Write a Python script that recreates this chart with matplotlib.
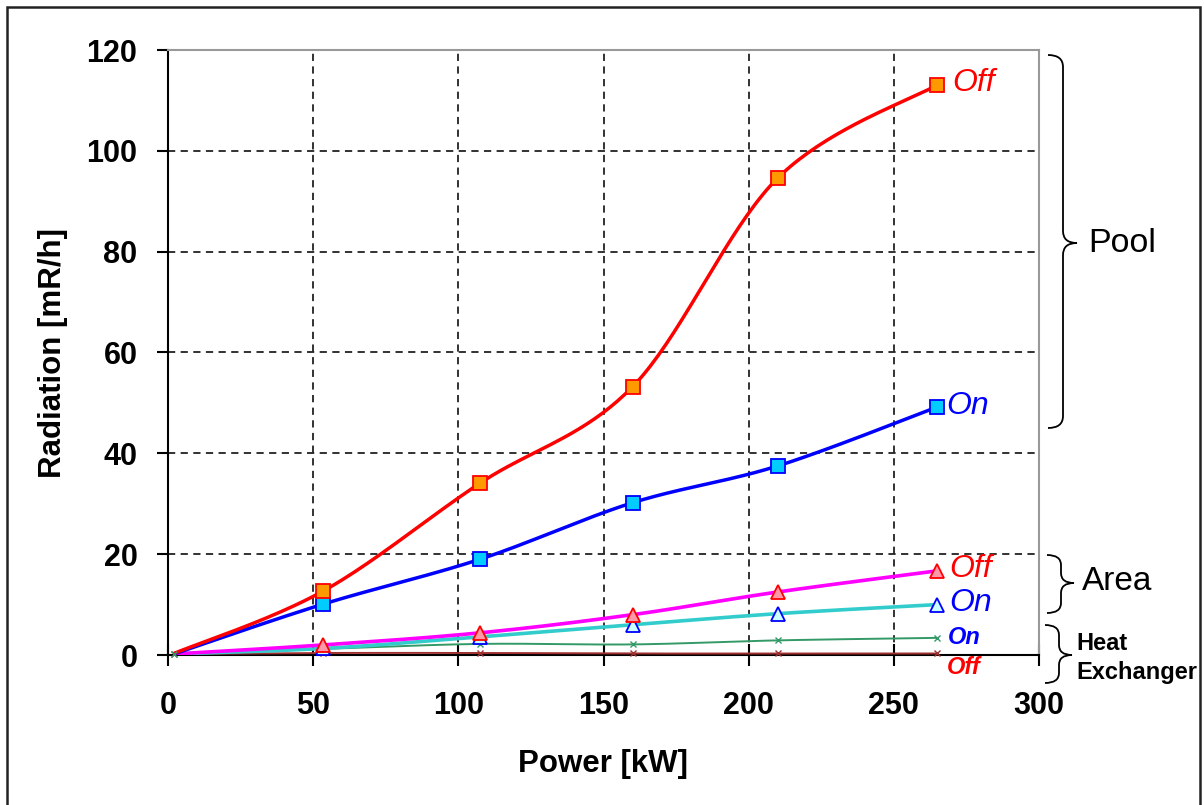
import numpy as np
import matplotlib
matplotlib.use("Agg")
import matplotlib.pyplot as plt
from matplotlib.path import Path
from matplotlib.patches import PathPatch, Rectangle

# ---------------- data ----------------
power_kw = [2, 53.5, 107.5, 160, 210, 265]
pool_off = [0.3, 12.7, 34.1, 53.2, 94.6, 113.1]
pool_on = [0.2, 10.1, 19.0, 30.2, 37.5, 49.2]
area_off = [0.2, 2.0, 4.4, 8.0, 12.5, 16.7]
area_on = [0.2, 1.3, 3.6, 6.0, 8.2, 10.0]
hx_on = [0.2, 1.2, 2.2, 2.1, 2.9, 3.4]
hx_off = [0.2, 0.4, 0.4, 0.3, 0.3, 0.3]

x_ticks = [0, 50, 100, 150, 200, 250, 300]
y_ticks = [0, 20, 40, 60, 80, 100, 120]

W, H = 1204, 805
plt.rcParams['font.family'] = ['Liberation Sans', 'DejaVu Sans']

fig = plt.figure(figsize=(W / 100, H / 100), dpi=100)
fig.patch.set_facecolor('white')

L, R, T, B = 168, 1039, 50, 655
ax = fig.add_axes([L / W, 1 - B / H, (R - L) / W, (B - T) / H])
ax.set_xlim(0, 300)
ax.set_ylim(0, 120)


def smooth(xs, ys, n=40):
    """Excel-style smoothed line (Catmull-Rom Bezier through the points)."""
    P = np.column_stack([xs, ys]).astype(float)
    out = [P[0]]
    m = len(P)
    for i in range(m - 1):
        p0 = P[i - 1] if i > 0 else P[i]
        p1 = P[i]
        p2 = P[i + 1]
        p3 = P[i + 2] if i + 2 < m else P[i + 1]
        c1 = p1 + (p2 - p0) / 6.0
        c2 = p2 - (p3 - p1) / 6.0
        t = np.linspace(0, 1, n)[1:, None]
        seg = ((1 - t) ** 3) * p1 + 3 * ((1 - t) ** 2) * t * c1 + 3 * (1 - t) * t ** 2 * c2 + t ** 3 * p2
        out.extend(seg)
    out = np.array(out)
    return out[:, 0], out[:, 1]


series = [
    (hx_off, '#A03030', 1.4, 'x', 'none', '#A03030', 4.5, 1.0, True),
    (hx_on, '#339966', 1.4, 'x', 'none', '#339966', 4.5, 1.0, True),
    (area_on, '#33CCCC', 2.6, '^', '#CCFFFF', '#0000FF', 10, 1.3, False),
    (area_off, '#FF00FF', 2.6, '^', '#FF99AA', '#FF0000', 10, 1.3, False),
    (pool_on, '#0000FF', 2.5, 's', '#00CCFF', '#0000FF', 9.5, 1.3, False),
    (pool_off, '#FF0000', 2.5, 's', '#FF9900', '#FF0000', 9.5, 1.3, False),
]

for ys, lc, lw, mk, mfc, mec, ms, mew, first in series:
    sx, sy = smooth(power_kw, ys)
    ax.plot(sx, sy, color=lc, lw=lw, zorder=3, solid_capstyle='butt')
    xs = power_kw if first else power_kw[1:]
    yv = ys if first else ys[1:]
    ax.plot(xs, yv, linestyle='none', marker=mk, markersize=ms,
            markerfacecolor=mfc, markeredgecolor=mec, markeredgewidth=mew,
            zorder=4, clip_on=False)

# grid
for xv in x_ticks[1:-1]:
    ax.axvline(xv, color='#222222', lw=1.3, ls=(0, (4, 3)), zorder=1)
for yv in y_ticks[1:-1]:
    ax.axhline(yv, color='#222222', lw=1.3, ls=(0, (4, 3)), zorder=1)

for s in ['top', 'right']:
    ax.spines[s].set_color('#999999')
    ax.spines[s].set_linewidth(1.5)
for s in ['left', 'bottom']:
    ax.spines[s].set_color('black')
    ax.spines[s].set_linewidth(1.5)

ax.set_xticks(x_ticks)
ax.set_yticks(y_ticks)
ax.set_xticklabels([str(v) for v in x_ticks])
ax.set_yticklabels([str(v) for v in y_ticks])
ax.tick_params(axis='x', direction='inout', length=16, width=1.5, pad=18,
               labelsize=22, colors='black')
ax.tick_params(axis='y', direction='out', length=8, width=1.5, pad=14,
               labelsize=22, colors='black')
for lab in ax.get_xticklabels() + ax.get_yticklabels():
    lab.set_fontweight('bold')

ax.set_xlabel('Power [kW]', fontsize=22.5, fontweight='bold')
ax.set_ylabel('Radiation [mR/h]', fontsize=22.5, fontweight='bold')
ax.xaxis.set_label_coords(0.5, -(749 - B) / (B - T), transform=ax.transAxes)
ax.yaxis.set_label_coords(-(L - 68) / (R - L), 0.5, transform=ax.transAxes)


# helper: figure pixel coords (top-left origin) -> figure fraction
def fp(x, y):
    return (x / W, 1 - y / H)


# series labels
lab_specs = [
    ('Off', 952, 83, '#FF0000', 23, 'normal'),
    ('On', 946, 406, '#0000FF', 23, 'normal'),
    ('Off', 949, 569, '#FF0000', 23, 'normal'),
    ('On', 949, 603, '#0000FF', 23, 'normal'),
    ('On', 948, 637, '#0000FF', 17, 'bold'),
    ('Off', 947, 668, '#FF0000', 17, 'bold'),
]
for txt, x, y, c, fs, fw in lab_specs:
    fig.text(*fp(x, y), txt, color=c, fontsize=fs, fontstyle='italic',
             fontweight=fw, ha='left', va='center')


def brace(x0, x1, x2, top, mid, bot, r):
    verts = [fp(x0, top), fp(x1, top), fp(x1, top + r),
             fp(x1, mid - r), fp(x1, mid), fp(x2, mid),
             fp(x1, mid), fp(x1, mid + r),
             fp(x1, bot - r), fp(x1, bot), fp(x0, bot)]
    codes = [Path.MOVETO, Path.CURVE3, Path.CURVE3,
             Path.LINETO, Path.CURVE3, Path.CURVE3,
             Path.CURVE3, Path.CURVE3,
             Path.LINETO, Path.CURVE3, Path.CURVE3]
    fig.add_artist(PathPatch(Path(verts, codes), fc='none', ec='black', lw=1.3,
                             transform=fig.transFigure))


brace(1048, 1063, 1077, 55, 243, 428, 12)
brace(1047, 1061, 1074, 555, 583, 613, 10)
brace(1045, 1059, 1072, 625, 655, 683, 10)

fig.text(*fp(1088, 243), 'Pool', fontsize=24.5, ha='left', va='center')
fig.text(*fp(1082, 581), 'Area', fontsize=24, ha='left', va='center')
fig.text(*fp(1076, 643), 'Heat', fontsize=17, fontweight='bold', ha='left', va='center')
fig.text(*fp(1076, 672), 'Exchanger', fontsize=17, fontweight='bold', ha='left', va='center')

# outer frame
fig.add_artist(Rectangle(fp(7, 830), (1200 - 7) / W, (830 - 7) / H, fill=False,
                         ec='#222222', lw=1.8, transform=fig.transFigure))

fig.savefig('out.png', dpi=100, facecolor='white')
